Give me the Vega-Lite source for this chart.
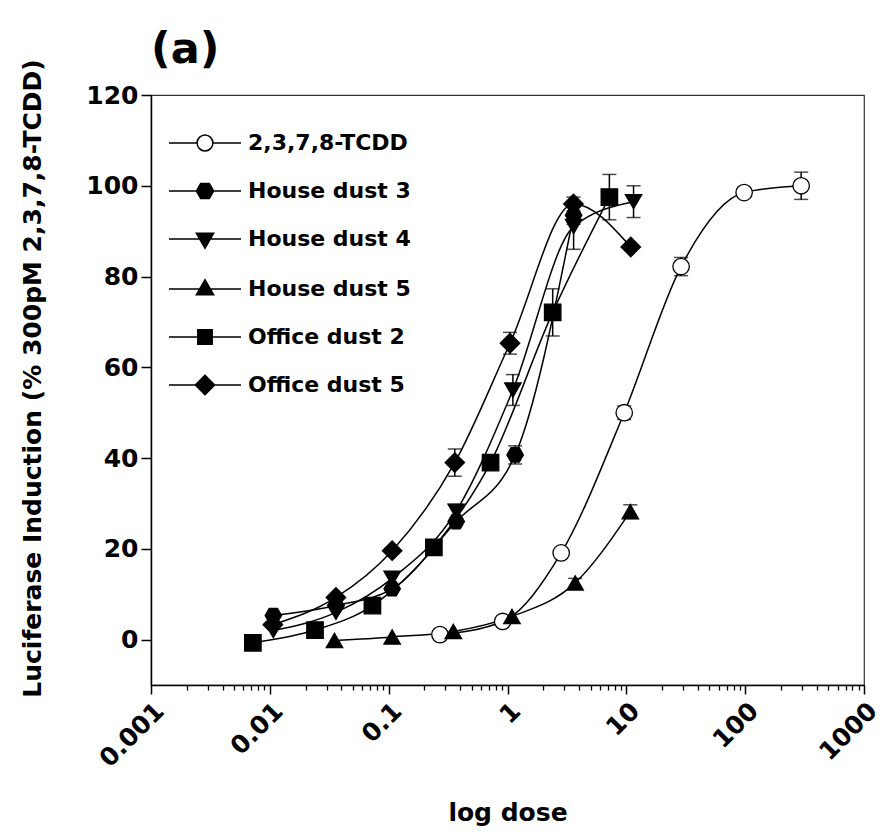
{
  "$schema": "https://vega.github.io/schema/vega-lite/v6.json",
  "autosize": "none",
  "width": 713,
  "height": 590,
  "padding": {"left": 151, "top": 95, "right": 21, "bottom": 152},
  "background": "white",
  "title": {"text": "(a)", "anchor": "start", "frame": "group", "fontSize": 43, "fontWeight": "bold", "font": "DejaVu Sans", "color": "black", "offset": 25, "dy": 38},
  "config": {
    "font": "DejaVu Sans",
    "view": {"stroke": "#333", "strokeWidth": 1.2}
  },
  "datasets": {
    "pts": [
      {"series": "2,3,7,8-TCDD", "dose": 0.27, "resp": 1.1},
      {"series": "2,3,7,8-TCDD", "dose": 0.91, "resp": 4.0},
      {"series": "2,3,7,8-TCDD", "dose": 2.83, "resp": 19.1},
      {"series": "2,3,7,8-TCDD", "dose": 9.6, "resp": 50.0},
      {"series": "2,3,7,8-TCDD", "dose": 28.9, "resp": 82.2},
      {"series": "2,3,7,8-TCDD", "dose": 98, "resp": 98.5},
      {"series": "2,3,7,8-TCDD", "dose": 296, "resp": 100.0},
      {"series": "House dust 3", "dose": 0.0107, "resp": 5.3},
      {"series": "House dust 3", "dose": 0.036, "resp": 7.5},
      {"series": "House dust 3", "dose": 0.107, "resp": 11.2},
      {"series": "House dust 3", "dose": 0.37, "resp": 26.0},
      {"series": "House dust 3", "dose": 1.16, "resp": 40.7},
      {"series": "House dust 3", "dose": 3.6, "resp": 93.5},
      {"series": "House dust 4", "dose": 0.0107, "resp": 2.0},
      {"series": "House dust 4", "dose": 0.036, "resp": 6.0},
      {"series": "House dust 4", "dose": 0.107, "resp": 13.5},
      {"series": "House dust 4", "dose": 0.37, "resp": 28.3},
      {"series": "House dust 4", "dose": 1.11, "resp": 55.0},
      {"series": "House dust 4", "dose": 3.6, "resp": 91.0},
      {"series": "House dust 4", "dose": 11.5, "resp": 96.5},
      {"series": "House dust 5", "dose": 0.035, "resp": -0.2},
      {"series": "House dust 5", "dose": 0.107, "resp": 0.6},
      {"series": "House dust 5", "dose": 0.35, "resp": 1.8},
      {"series": "House dust 5", "dose": 1.09, "resp": 5.1},
      {"series": "House dust 5", "dose": 3.71, "resp": 12.5},
      {"series": "House dust 5", "dose": 10.8, "resp": 28.2},
      {"series": "Office dust 2", "dose": 0.0072, "resp": -0.7},
      {"series": "Office dust 2", "dose": 0.024, "resp": 2.1},
      {"series": "Office dust 2", "dose": 0.073, "resp": 7.5},
      {"series": "Office dust 2", "dose": 0.24, "resp": 20.3},
      {"series": "Office dust 2", "dose": 0.72, "resp": 39.0},
      {"series": "Office dust 2", "dose": 2.4, "resp": 72.1},
      {"series": "Office dust 2", "dose": 7.2, "resp": 97.5},
      {"series": "Office dust 5", "dose": 0.0106, "resp": 3.3},
      {"series": "Office dust 5", "dose": 0.036, "resp": 9.3},
      {"series": "Office dust 5", "dose": 0.107, "resp": 19.6},
      {"series": "Office dust 5", "dose": 0.36, "resp": 39.0},
      {"series": "Office dust 5", "dose": 1.05, "resp": 65.3},
      {"series": "Office dust 5", "dose": 3.59, "resp": 96.0},
      {"series": "Office dust 5", "dose": 10.9, "resp": 86.5}
    ],
    "errs": [
      {"series": "2,3,7,8-TCDD", "dose": 2.83, "resp": 19.1, "err": 1.0},
      {"series": "2,3,7,8-TCDD", "dose": 9.6, "resp": 50.0, "err": 1.5},
      {"series": "2,3,7,8-TCDD", "dose": 28.9, "resp": 82.2, "err": 2.0},
      {"series": "2,3,7,8-TCDD", "dose": 98, "resp": 98.5, "err": 1.0},
      {"series": "2,3,7,8-TCDD", "dose": 296, "resp": 100.0, "err": 3.0},
      {"series": "House dust 3", "dose": 1.16, "resp": 40.7, "err": 2.0},
      {"series": "House dust 3", "dose": 3.6, "resp": 93.5, "err": 2.0},
      {"series": "House dust 4", "dose": 0.37, "resp": 28.3, "err": 1.5},
      {"series": "House dust 4", "dose": 1.11, "resp": 55.0, "err": 3.4},
      {"series": "House dust 4", "dose": 3.6, "resp": 91.0, "err": 5.0},
      {"series": "House dust 4", "dose": 11.5, "resp": 96.5, "err": 3.5},
      {"series": "House dust 5", "dose": 3.71, "resp": 12.5, "err": 1.0},
      {"series": "House dust 5", "dose": 10.8, "resp": 28.2, "err": 1.5},
      {"series": "Office dust 2", "dose": 2.4, "resp": 72.1, "err": 5.2},
      {"series": "Office dust 2", "dose": 7.2, "resp": 97.5, "err": 5.0},
      {"series": "Office dust 5", "dose": 0.36, "resp": 39.0, "err": 3.0},
      {"series": "Office dust 5", "dose": 1.05, "resp": 65.3, "err": 2.4},
      {"series": "Office dust 5", "dose": 3.59, "resp": 96.0, "err": 1.5}
    ]
  },
  "encoding": {
    "y": {"field": "resp", "type": "quantitative",
          "scale": {"domain": [-10, 120], "nice": false, "zero": false},
          "axis": {"values": [0, 20, 40, 60, 80, 100, 120],
                   "title": "Luciferase Induction (% 300pM 2,3,7,8-TCDD)", "titleFontSize": 25, "titleFontWeight": "bold", "titleColor": "black",
                   "titleX": -119, "titleY": 283, "titleBaseline": "middle", "titleAngle": -90,
                   "labelFontSize": 25, "labelFontWeight": "bold", "labelColor": "black", "labelPadding": 3,
                   "tickSize": 10, "tickWidth": 1.5, "tickColor": "black", "domainColor": "black", "domainWidth": 1.5, "grid": false}}
  },
  "resolve": {"scale": {"x": "shared", "y": "shared"}, "axis": {"x": "independent", "y": "shared"}},
  "layer": [
    {
      "data": {"name": "pts"},
      "mark": {"type": "line", "interpolate": "monotone", "color": "black", "strokeWidth": 1.5},
      "encoding": {
        "x": {"field": "dose", "type": "quantitative",
              "scale": {"type": "log", "domain": [0.001, 1000], "nice": false},
              "axis": {"orient": "bottom", "values": [0.001, 0.01, 0.1, 1, 10, 100, 1000],
                       "labelExpr": "datum.value >= 1 ? format(datum.value, 'd') : format(datum.value, '~g')",
                       "title": "log dose", "titleFontSize": 25, "titleFontWeight": "bold", "titleColor": "black",
                       "titleY": 127, "titleBaseline": "middle",
                       "labelFontSize": 25, "labelFontWeight": "bold", "labelColor": "black", "labelAngle": -45, "labelAlign": "right", "labelBaseline": "top", "labelPadding": 4, "labelDx": 11, "labelDy": 22,
                       "tickSize": 9, "tickWidth": 1.5, "tickColor": "black", "domainColor": "black", "domainWidth": 1.5, "grid": false, "labelOverlap": false, "labelFlush": false}},
        "detail": {"field": "series"}
      }
    },
    {
      "data": {"name": "errs"},
      "mark": {"type": "errorbar", "color": "black", "thickness": 1.5, "ticks": {"size": 14, "thickness": 1.5, "color": "black"}},
      "encoding": {
        "x": {"field": "dose", "type": "quantitative", "axis": null},
        "yError": {"field": "err"}
      }
    },
    {
      "data": {"name": "pts"},
      "mark": {"type": "point", "filled": true, "stroke": "black", "strokeWidth": 1.3, "opacity": 1},
      "encoding": {
        "x": {"field": "dose", "type": "quantitative",
              "axis": {"orient": "bottom", "values": [0.002,0.003,0.004,0.005,0.006,0.007,0.008,0.009,0.02,0.03,0.04,0.05,0.06,0.07,0.08,0.09,0.2,0.3,0.4,0.5,0.6,0.7,0.8,0.9,2,3,4,5,6,7,8,9,20,30,40,50,60,70,80,90,200,300,400,500,600,700,800,900],
                       "labels": false, "title": null, "domain": false, "tickSize": 5, "tickWidth": 1.3, "tickColor": "black", "grid": false}},
        "shape": {"condition": [
                    {"test": "datum.series === '2,3,7,8-TCDD'", "value": "circle"},
                    {"test": "datum.series === 'House dust 3'", "value": "M-1,0L-0.5,-0.87L0.5,-0.87L1,0L0.5,0.87L-0.5,0.87Z"},
                    {"test": "datum.series === 'House dust 4'", "value": "triangle-down"},
                    {"test": "datum.series === 'House dust 5'", "value": "triangle-up"},
                    {"test": "datum.series === 'Office dust 2'", "value": "square"}
                  ], "value": "diamond"},
        "color": {"field": "series", "type": "nominal",
                  "scale": {"domain": ["2,3,7,8-TCDD", "House dust 3", "House dust 4", "House dust 5", "Office dust 2", "Office dust 5"],
                            "range": ["white", "black", "black", "black", "black", "black"]},
                  "legend": {"orient": "none", "legendX": 17, "legendY": 11, "title": null,
                             "symbolSize": 5184, "symbolStrokeWidth": 1.5, "symbolStrokeColor": "black", "symbolOpacity": 1,
                             "labelFontSize": 22, "labelFontWeight": "bold", "labelColor": "black", "labelFont": "DejaVu Sans", "labelOffset": 6, "labelLimit": 400,
                             "rowPadding": -4.5, "padding": 0,
                             "encode": {"symbols": {"update": {
                               "size": {"value": 5184},
                               "stroke": {"value": "black"},
                               "strokeWidth": {"value": 1.5},
                               "shape": {"signal": "datum.value === '2,3,7,8-TCDD' ? 'M-1,0L-0.22,0M0.22,0L1,0M0.22,0A0.22,0.22,0,1,1,-0.22,0A0.22,0.22,0,1,1,0.22,0Z' : datum.value === 'House dust 3' ? 'M-1,0L1,0M-0.24,0L-0.12,-0.21L0.12,-0.21L0.24,0L0.12,0.21L-0.12,0.21Z' : datum.value === 'House dust 4' ? 'M-1,0L1,0M-0.24,-0.16L0.24,-0.16L0,0.26Z' : datum.value === 'House dust 5' ? 'M-1,0L1,0M-0.24,0.16L0.24,0.16L0,-0.26Z' : datum.value === 'Office dust 2' ? 'M-1,0L1,0M-0.2,-0.2L0.2,-0.2L0.2,0.2L-0.2,0.2Z' : 'M-1,0L1,0M-0.27,0L0,-0.27L0.27,0L0,0.27Z'"}
                             }}}}},
        "size": {"condition": {"test": "datum.series === 'Office dust 5'", "value": 380}, "value": 270}
      }
    }
  ]
}
